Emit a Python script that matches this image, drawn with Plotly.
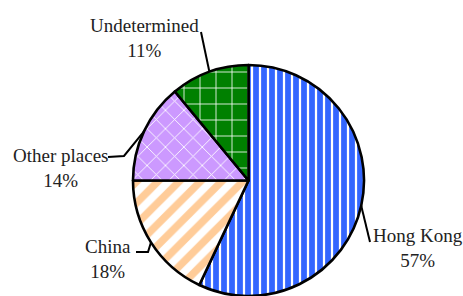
import math
import plotly.graph_objects as go

# ---- data ----
labels = ["Hong Kong", "China", "Other places", "Undetermined"]
shares = [57, 18, 14, 11]
share_text = ["57%", "18%", "14%", "11%"]

# ---- styles ----
colors = ["#3366FF", "#FFFFFF", "#CC99FF", "#008000"]
pat_shape = ["|", "/", "x", "+"]
pat_fg = ["#FFFFFF", "#FFCC99", "#FFFFFF", "#FFFFFF"]
pat_size = [8, 15, 13, 16]
pat_solid = [0.28, 0.5, 0.13, 0.1]

W, H = 463, 296
cx, cy, r = 248.5, 180.5, 115.5  # pie centre / radius in pixels

# label text centres (pixels) and leader elbows (pixels)
label_pos = [(418, 248), (108, 259), (60, 168), (144, 38)]
leader_pts = [[(370, 242)], [(148, 252), (136, 252)], [(124, 156), (108, 157)], [(201, 32)]]

def px(x):
    return x / W

def py(y):
    return 1 - y / H

fig = go.Figure(go.Pie(
    labels=labels, values=shares, sort=False, direction="clockwise", rotation=0,
    textinfo="none", hoverinfo="label+percent", showlegend=False,
    domain=dict(x=[px(cx - r), px(cx + r)], y=[0, py(cy - r)]),
    marker=dict(colors=colors, line=dict(color="black", width=2.6),
                pattern=dict(shape=pat_shape, fgcolor=pat_fg, bgcolor=colors,
                             size=pat_size, solidity=pat_solid, fillmode="replace")),
))

total = sum(shares)
cum = 0
shapes = []
annotations = []
for i, v in enumerate(shares):
    mid = (cum + v / 2) / total * 2 * math.pi
    cum += v
    ex = cx + r * math.sin(mid)
    ey = cy - r * math.cos(mid)
    pts = [(ex, ey)] + leader_pts[i]
    path = "M " + " L ".join(f"{px(a):.5f},{py(b):.5f}" for a, b in pts)
    shapes.append(dict(type="path", path=path, xref="paper", yref="paper",
                       line=dict(color="black", width=2)))
    lx, ly = label_pos[i]
    annotations.append(dict(text=f"{labels[i]}<br>{share_text[i]}", x=px(lx), y=py(ly),
                            xref="paper", yref="paper", xanchor="center", yanchor="middle",
                            showarrow=False, align="center",
                            font=dict(family="Liberation Serif", size=19, color="#222222")))

fig.update_layout(width=W, height=H, margin=dict(l=0, r=0, t=0, b=0),
                  paper_bgcolor="white", plot_bgcolor="white",
                  shapes=shapes, annotations=annotations)
fig.write_html("out.html", config={"displayModeBar": False},
               post_script="document.body.style.margin='0';")
